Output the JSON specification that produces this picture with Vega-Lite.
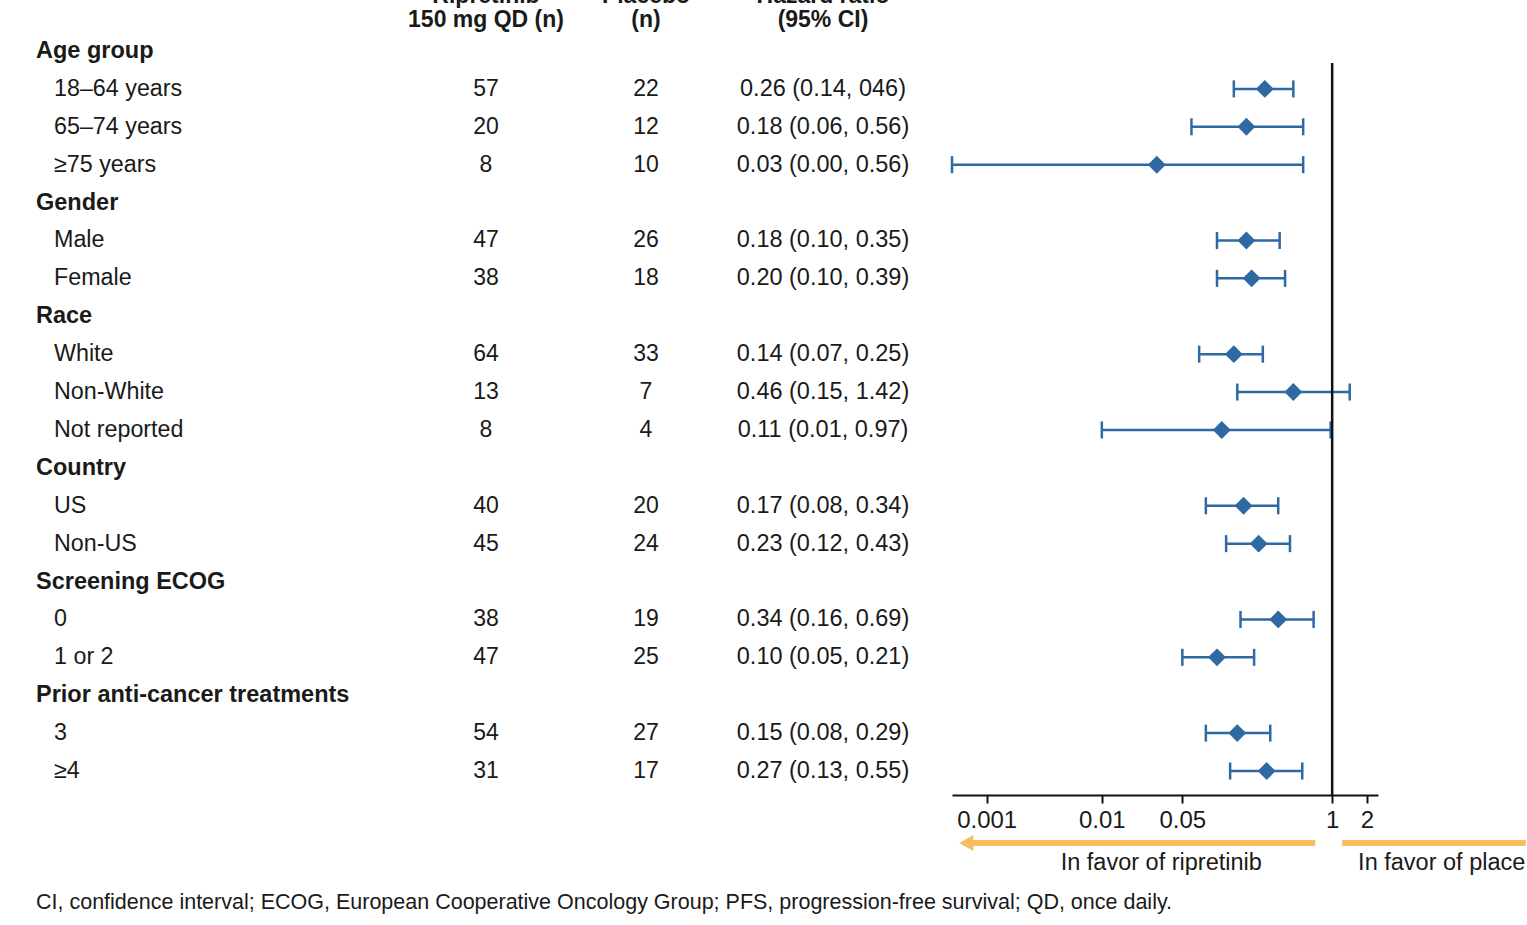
{
  "$schema": "https://vega.github.io/schema/vega-lite/v6.json",
  "padding": 0,
  "spacing": 0,
  "bounds": "flush",
  "config": {
    "view": {"stroke": null},
    "font": "Liberation Sans",
    "text": {"font": "Liberation Sans", "color": "#1a1a1a", "baseline": "middle"}
  },
  "datasets": {
    "rows": [
      {"row": 0, "label": "Age group", "level": 0},
      {"row": 1, "label": "18–64 years", "level": 1, "n1": 57, "n2": 22, "hrText": "0.26 (0.14, 046)", "hr": 0.26, "lo": 0.14, "hi": 0.46},
      {"row": 2, "label": "65–74 years", "level": 1, "n1": 20, "n2": 12, "hrText": "0.18 (0.06, 0.56)", "hr": 0.18, "lo": 0.06, "hi": 0.56},
      {"row": 3, "label": "≥75 years", "level": 1, "n1": 8, "n2": 10, "hrText": "0.03 (0.00, 0.56)", "hr": 0.03, "lo": 0.0005, "hi": 0.56},
      {"row": 4, "label": "Gender", "level": 0},
      {"row": 5, "label": "Male", "level": 1, "n1": 47, "n2": 26, "hrText": "0.18 (0.10, 0.35)", "hr": 0.18, "lo": 0.10, "hi": 0.35},
      {"row": 6, "label": "Female", "level": 1, "n1": 38, "n2": 18, "hrText": "0.20 (0.10, 0.39)", "hr": 0.20, "lo": 0.10, "hi": 0.39},
      {"row": 7, "label": "Race", "level": 0},
      {"row": 8, "label": "White", "level": 1, "n1": 64, "n2": 33, "hrText": "0.14 (0.07, 0.25)", "hr": 0.14, "lo": 0.07, "hi": 0.25},
      {"row": 9, "label": "Non-White", "level": 1, "n1": 13, "n2": 7, "hrText": "0.46 (0.15, 1.42)", "hr": 0.46, "lo": 0.15, "hi": 1.42},
      {"row": 10, "label": "Not reported", "level": 1, "n1": 8, "n2": 4, "hrText": "0.11 (0.01, 0.97)", "hr": 0.11, "lo": 0.01, "hi": 0.97},
      {"row": 11, "label": "Country", "level": 0},
      {"row": 12, "label": "US", "level": 1, "n1": 40, "n2": 20, "hrText": "0.17 (0.08, 0.34)", "hr": 0.17, "lo": 0.08, "hi": 0.34},
      {"row": 13, "label": "Non-US", "level": 1, "n1": 45, "n2": 24, "hrText": "0.23 (0.12, 0.43)", "hr": 0.23, "lo": 0.12, "hi": 0.43},
      {"row": 14, "label": "Screening ECOG", "level": 0},
      {"row": 15, "label": "0", "level": 1, "n1": 38, "n2": 19, "hrText": "0.34 (0.16, 0.69)", "hr": 0.34, "lo": 0.16, "hi": 0.69},
      {"row": 16, "label": "1 or 2", "level": 1, "n1": 47, "n2": 25, "hrText": "0.10 (0.05, 0.21)", "hr": 0.10, "lo": 0.05, "hi": 0.21},
      {"row": 17, "label": "Prior anti-cancer treatments", "level": 0},
      {"row": 18, "label": "3", "level": 1, "n1": 54, "n2": 27, "hrText": "0.15 (0.08, 0.29)", "hr": 0.15, "lo": 0.08, "hi": 0.29},
      {"row": 19, "label": "≥4", "level": 1, "n1": 31, "n2": 17, "hrText": "0.27 (0.13, 0.55)", "hr": 0.27, "lo": 0.13, "hi": 0.55}
    ],
    "heads": [
      {"col": "n1", "row": -1.451, "text": "Ripretinib"},
      {"col": "n1", "row": -0.818, "text": "150 mg QD (n)"},
      {"col": "n2", "row": -1.451, "text": "Placebo"},
      {"col": "n2", "row": -0.818, "text": "(n)"},
      {"col": "hr", "row": -1.451, "text": "Hazard ratio"},
      {"col": "hr", "row": -0.818, "text": "(95% CI)"}
    ],
    "notes": [
      {"row": 22.48, "level": 0, "text": "CI, confidence interval; ECOG, European Cooperative Oncology Group; PFS, progression-free survival; QD, once daily."}
    ],
    "arrows": [
      {"side": "ripretinib", "from": 0.712, "to": 0.000665, "row": 20.9},
      {"side": "placebo", "from": 1.22, "to": 48, "row": 20.9}
    ],
    "arrowText": [
      {"x": 0.0328, "row": 21.43, "text": "In favor of ripretinib", "align": "center"},
      {"x": 1.68, "row": 21.43, "text": "In favor of placebo", "align": "left"}
    ]
  },
  "hconcat": [
    {
      "width": 374,
      "height": 795,
      "layer": [
        {
          "data": {"name": "rows"},
          "transform": [{"filter": "datum.level == 0"}],
          "mark": {"type": "text", "align": "left", "fontSize": 23.5, "fontWeight": "bold"},
          "encoding": {
            "x": {"field": "level", "type": "quantitative", "scale": {"domain": [0, 1], "range": [36, 54]}, "axis": null},
            "y": {"field": "row", "type": "quantitative", "scale": {"domain": [-1.3458, 19.633], "reverse": true, "nice": false, "zero": false}, "axis": null},
            "text": {"field": "label"}
          }
        },
        {
          "data": {"name": "rows"},
          "transform": [{"filter": "datum.level == 1"}],
          "mark": {"type": "text", "align": "left", "fontSize": 23.3},
          "encoding": {
            "x": {"field": "level", "type": "quantitative", "scale": {"domain": [0, 1], "range": [36, 54]}, "axis": null},
            "y": {"field": "row", "type": "quantitative", "scale": {"domain": [-1.3458, 19.633], "reverse": true, "nice": false, "zero": false}, "axis": null},
            "text": {"field": "label"}
          }
        },
        {
          "data": {"name": "notes"},
          "mark": {"type": "text", "align": "left", "fontSize": 21.5},
          "encoding": {
            "x": {"field": "level", "type": "quantitative", "scale": {"domain": [0, 1], "range": [36, 54]}, "axis": null},
            "y": {"field": "row", "type": "quantitative", "scale": {"domain": [-1.3458, 19.633], "reverse": true, "nice": false, "zero": false}, "axis": null},
            "text": {"field": "text"}
          }
        }
      ]
    },
    {
      "width": 224,
      "height": 795,
      "layer": [
        {
          "data": {"name": "heads"},
          "transform": [{"filter": "datum.col == 'n1'"}],
          "mark": {"type": "text", "align": "center", "fontSize": 23, "fontWeight": "bold", "clip": true},
          "encoding": {
            "y": {"field": "row", "type": "quantitative", "scale": {"domain": [-1.3458, 19.633], "reverse": true, "nice": false, "zero": false}, "axis": null},
            "text": {"field": "text"}
          }
        },
        {
          "data": {"name": "rows"},
          "transform": [{"filter": "isValid(datum.n1)"}],
          "mark": {"type": "text", "align": "center", "fontSize": 23},
          "encoding": {
            "y": {"field": "row", "type": "quantitative", "scale": {"domain": [-1.3458, 19.633], "reverse": true, "nice": false, "zero": false}, "axis": null},
            "text": {"field": "n1"}
          }
        }
      ]
    },
    {
      "width": 96,
      "height": 795,
      "layer": [
        {
          "data": {"name": "heads"},
          "transform": [{"filter": "datum.col == 'n2'"}],
          "mark": {"type": "text", "align": "center", "fontSize": 23, "fontWeight": "bold", "clip": true},
          "encoding": {
            "y": {"field": "row", "type": "quantitative", "scale": {"domain": [-1.3458, 19.633], "reverse": true, "nice": false, "zero": false}, "axis": null},
            "text": {"field": "text"}
          }
        },
        {
          "data": {"name": "rows"},
          "transform": [{"filter": "isValid(datum.n2)"}],
          "mark": {"type": "text", "align": "center", "fontSize": 23},
          "encoding": {
            "y": {"field": "row", "type": "quantitative", "scale": {"domain": [-1.3458, 19.633], "reverse": true, "nice": false, "zero": false}, "axis": null},
            "text": {"field": "n2"}
          }
        }
      ]
    },
    {
      "width": 258,
      "height": 795,
      "layer": [
        {
          "data": {"name": "heads"},
          "transform": [{"filter": "datum.col == 'hr'"}],
          "mark": {"type": "text", "align": "center", "fontSize": 23, "fontWeight": "bold", "clip": true},
          "encoding": {
            "y": {"field": "row", "type": "quantitative", "scale": {"domain": [-1.3458, 19.633], "reverse": true, "nice": false, "zero": false}, "axis": null},
            "text": {"field": "text"}
          }
        },
        {
          "data": {"name": "rows"},
          "transform": [{"filter": "isValid(datum.hrText)"}],
          "mark": {"type": "text", "align": "center", "fontSize": 23.5},
          "encoding": {
            "y": {"field": "row", "type": "quantitative", "scale": {"domain": [-1.3458, 19.633], "reverse": true, "nice": false, "zero": false}, "axis": null},
            "text": {"field": "hrText"}
          }
        }
      ]
    },
    {
      "width": 426,
      "height": 795,
      "encoding": {
        "y": {"field": "row", "type": "quantitative", "scale": {"domain": [-1.3458, 19.633], "reverse": true, "nice": false, "zero": false}, "axis": null}
      },
      "layer": [
        {
          "data": {"name": "rows"},
          "transform": [{"filter": "isValid(datum.hr)"}],
          "mark": {"type": "rule", "color": "#2e69a3", "strokeWidth": 2.5},
          "encoding": {
            "x": {
              "field": "lo",
              "type": "quantitative",
              "scale": {"type": "log", "domain": [0.0005, 2.5], "nice": false},
              "axis": {
                "values": [0.001, 0.01, 0.05, 1, 2],
                "format": "~g",
                "title": null,
                "grid": false,
                "domainColor": "#111111",
                "domainWidth": 2,
                "tickColor": "#111111",
                "tickWidth": 2,
                "tickSize": 8,
                "labelFontSize": 24,
                "labelColor": "#1a1a1a",
                "labelFont": "Liberation Sans",
                "labelPadding": 5,
                "labelFlush": false,
                "labelOverlap": false
              }
            },
            "x2": {"field": "hi"}
          }
        },
        {
          "data": {"name": "rows"},
          "transform": [{"filter": "isValid(datum.hr)"}],
          "mark": {"type": "tick", "orient": "vertical", "color": "#2e69a3", "thickness": 2.5, "size": 17, "opacity": 1},
          "encoding": {"x": {"field": "lo", "type": "quantitative"}}
        },
        {
          "data": {"name": "rows"},
          "transform": [{"filter": "isValid(datum.hr)"}],
          "mark": {"type": "tick", "orient": "vertical", "color": "#2e69a3", "thickness": 2.5, "size": 17, "opacity": 1},
          "encoding": {"x": {"field": "hi", "type": "quantitative"}}
        },
        {
          "data": {"name": "rows"},
          "transform": [{"filter": "isValid(datum.hr)"}],
          "mark": {"type": "point", "shape": "diamond", "filled": true, "color": "#2e69a3", "size": 320, "opacity": 1},
          "encoding": {"x": {"field": "hr", "type": "quantitative"}}
        },
        {
          "data": {"values": [{"ref": 1, "top": 0.317, "bottom": 19.633}]},
          "mark": {"type": "rule", "color": "#111111", "strokeWidth": 2.5},
          "encoding": {
            "x": {"field": "ref", "type": "quantitative"},
            "y": {"field": "top", "type": "quantitative"},
            "y2": {"field": "bottom"}
          }
        },
        {
          "data": {"name": "arrows"},
          "mark": {"type": "rule", "color": "#f6bd60", "strokeWidth": 6},
          "encoding": {
            "x": {"field": "from", "type": "quantitative"},
            "x2": {"field": "to"}
          }
        },
        {
          "data": {"name": "arrows"},
          "transform": [{"filter": "datum.side == 'ripretinib'"}],
          "mark": {"type": "point", "shape": "triangle-left", "filled": true, "color": "#f6bd60", "size": 260, "opacity": 1},
          "encoding": {"x": {"field": "to", "type": "quantitative"}}
        },
        {
          "data": {"name": "arrowText"},
          "transform": [{"filter": "datum.align == 'center'"}],
          "mark": {"type": "text", "align": "center", "fontSize": 23.5},
          "encoding": {
            "x": {"field": "x", "type": "quantitative"},
            "text": {"field": "text"}
          }
        },
        {
          "data": {"name": "arrowText"},
          "transform": [{"filter": "datum.align == 'left'"}],
          "mark": {"type": "text", "align": "left", "fontSize": 23.5, "limit": 170, "ellipsis": "\u200b"},
          "encoding": {
            "x": {"field": "x", "type": "quantitative"},
            "text": {"field": "text"}
          }
        }
      ]
    }
  ]
}
